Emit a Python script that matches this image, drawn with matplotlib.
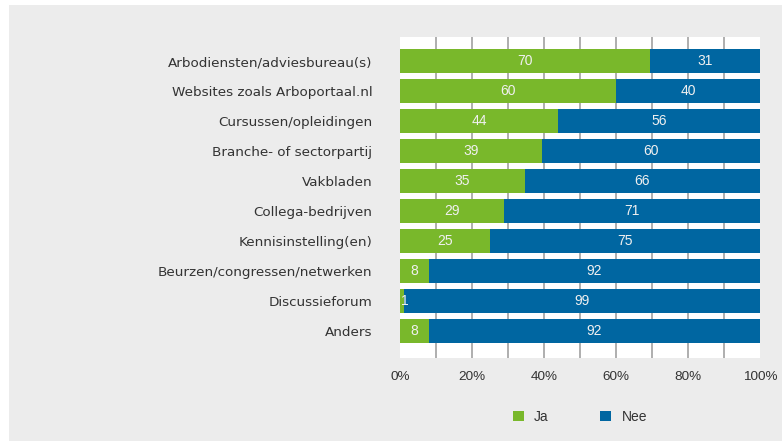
import matplotlib.pyplot as plt
from matplotlib.patches import Rectangle
import numpy as np

plt.rcParams['font.family'] = ['Liberation Sans', 'DejaVu Sans']

# 데이터
categories = ['Arbodiensten/adviesbureau(s)', 'Websites zoals Arboportaal.nl',
              'Cursussen/opleidingen', 'Branche- of sectorpartij', 'Vakbladen',
              'Collega-bedrijven', 'Kennisinstelling(en)',
              'Beurzen/congressen/netwerken', 'Discussieforum', 'Anders']
ja = [70, 60, 44, 39, 35, 29, 25, 8, 1, 8]
nee = [31, 40, 56, 60, 66, 71, 75, 92, 99, 92]
series_names = ['Ja', 'Nee']
xticks = [0, 20, 40, 60, 80, 100]

green = '#79b82b'
blue = '#0066a1'
W, H = 782, 441

fig = plt.figure(figsize=(W / 100, H / 100), dpi=100, facecolor='white')
fig.patches.append(Rectangle((9 / W, 0), 1, (H - 5) / H, transform=fig.transFigure,
                             facecolor='#ececec', edgecolor='none', zorder=-10))
ax = fig.add_axes([400 / W, 1 - 358 / H, 360 / W, 321 / H])
ax.set_facecolor('white')

# 100% 누적 막대 (합계로 정규화)
y = np.arange(len(categories))
ja = np.array(ja)
nee = np.array(nee)
tot = ja + nee
ja_p = ja / tot * 100
nee_p = nee / tot * 100
ax.barh(y, ja_p, height=0.77, color=green, zorder=2, label=series_names[0])
ax.barh(y, nee_p, left=ja_p, height=0.77, color=blue, zorder=2, label=series_names[1])

for i in range(len(categories)):
    ax.text(ja_p[i] / 2 + (0.8 if ja[i] < 3 else 0), y[i], str(ja[i]), ha='center',
            va='center', color='#f0f0f0', fontsize=10, zorder=3)
    ax.text(ja_p[i] + nee_p[i] / 2, y[i], str(nee[i]), ha='center', va='center',
            color='#f0f0f0', fontsize=10, zorder=3)

ax.set_xlim(0, 100)
ax.set_ylim(9.9, -0.8)
ax.set_yticks(y)
ax.set_yticklabels(categories, family=['DejaVu Sans'], fontsize=9.7)
ax.set_xticks(xticks)
ax.set_xticklabels(['{}%'.format(t) for t in xticks], fontsize=9.7)
for gx in range(10, 100, 10):
    ax.axvline(gx, color='#a8a8a8', linewidth=1.3, zorder=1)
ax.tick_params(axis='both', which='both', length=0, colors='#333333')
ax.tick_params(axis='y', pad=20)
ax.tick_params(axis='x', pad=9)
for s in ax.spines.values():
    s.set_visible(False)

ax.legend(loc='center', bbox_to_anchor=(580 / W, 1 - 417 / H), bbox_transform=fig.transFigure,
          ncol=2, frameon=False, fontsize=10, handlelength=0.8, handleheight=0.8,
          columnspacing=3.7, handletextpad=0.75, labelcolor='#333333')

fig.savefig('out.png', dpi=100, facecolor='white')
